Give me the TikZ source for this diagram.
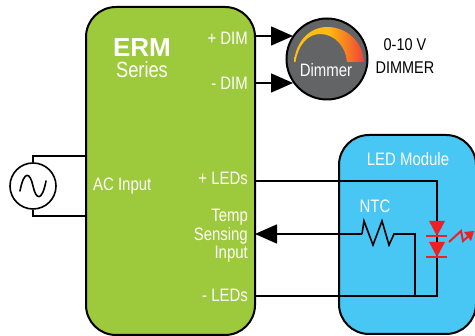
\documentclass[tikz,border=0pt]{standalone}
\usepackage{fontspec}
\setmainfont{Liberation Sans}
\newfontfamily\narrowfont[FakeStretch=0.83]{Liberation Sans}
\newfontfamily\widerfont[FakeStretch=0.85]{Liberation Sans}
\usetikzlibrary{arrows.meta}
\definecolor{ermgreen}{HTML}{9DCA3C}
\definecolor{modblue}{HTML}{48C6F4}
\definecolor{dimgrey}{HTML}{636466}
\definecolor{ledred}{HTML}{ED2024}
\definecolor{arcyellow}{HTML}{FFC20E}
\definecolor{arcorange}{HTML}{F7941E}
\definecolor{arcred}{HTML}{EF4136}
\tikzset{
 wire/.style={black,line width=1.6pt},
 bigtip/.style={-{Triangle[length=22pt,width=19pt]}},
 box/.style={draw=black,line width=2pt,rounded corners=30pt,inner sep=0pt},
 wlabel/.style={text=white,inner sep=0pt,align=right,font=\narrowfont\fontsize{18}{18.5}\selectfont},
 klabel/.style={text=black,inner sep=0pt,align=center,font=\widerfont\fontsize{17}{23}\selectfont},
 tlabel/.style={text=white,inner sep=0pt},
 led/.style={fill=ledred,draw=none},
 ledbar/.style={ledred,line width=1.8pt},
}
\begin{document}
\begin{tikzpicture}[x=1pt,y=-1pt]
 \useasboundingbox (0,0) rectangle (475,336);
 % boxes
 \node [box,fill=ermgreen,minimum width=169pt,minimum height=328pt] (erm) at (170.5,171) {};
 \node [box,fill=modblue,minimum width=137pt,minimum height=199pt] (module) at (407.5,234.5) {};
 \node [circle,draw=black,line width=2pt,fill=dimgrey,minimum size=81pt,inner sep=0pt] (dimmer) at (327,59) {};
 \node [circle,draw=black,line width=1.6pt,fill=white,minimum size=46pt,inner sep=0pt] (source) at (33,186) {};
 % end points
 \coordinate (dimp) at (255,36);
 \coordinate (dimm) at (255,83);
 \coordinate (dimpend) at (293,36);
 \coordinate (dimmend) at (293,83);
 \coordinate (acp) at (86,156);
 \coordinate (acm) at (86,216);
 \coordinate (ledp) at (255,181);
 \coordinate (ledm) at (255,296);
 \coordinate (temp) at (255,234);
 \coordinate (ntca) at (362,234);
 \coordinate (ntcb) at (394,234);
 % dimmer
 \draw [wire,bigtip] (dimp) -- (dimpend);
 \draw [wire,bigtip] (dimm) -- (dimmend);
 \shade [left color=arcyellow,right color=arcred,middle color=arcyellow!80!arcorange]
  (294,62) .. controls (296,40) and (311,27) .. (327,27)
  .. controls (347,27) and (363,42) .. (364,62) -- (347,62)
  .. controls (346,47) and (335,34) .. (320,34)
  .. controls (307,34) and (298,46) .. (295.5,62) -- cycle;
 % source
 \draw [wire] (source.north) |- (acp);
 \draw [wire] (source.south) |- (acm);
 \draw [black,line width=1.6pt,line cap=round] (20,191) .. controls (24,170) and (30,172) .. (33,186)
  .. controls (36,200) and (42,202) .. (46,181);
 % led side
 \draw [wire] (ledp) -| (437,296) -- (ledm);
 \draw [wire,bigtip] (ntca) -- (temp);
 \draw [wire] (ntca) -- (364,221) -- (373,245) -- (382,221) -- (389,245) -- (ntcb) -| (415,296);
 \fill [led] (429,221) -- (445,221) -- (437,236) -- cycle;
 \draw [ledbar] (426,236) -- (447,236);
 \fill [led] (429,242) -- (445,242) -- (437,257) -- cycle;
 \draw [ledbar] (426,257) -- (447,257);
 \draw [ledred,line width=2pt] (449,242) -- (461,231) -- (463,241) -- (470,235);
 \fill [ledred] (474,231) -- (464,232) -- (471,241) -- cycle;
 % labels
 \node [tlabel,font=\bfseries\fontsize{26}{26}\selectfont] (ermname) at (142,47.5) {ERM};
 \node [tlabel,font=\narrowfont\fontsize{22}{22}\selectfont] (ermseries) at (142,69.5) {Series};
 \node [wlabel,anchor=east] (lpdim) at (248,38) {+ DIM};
 \node [wlabel,anchor=east] (lmdim) at (248,83) {- DIM};
 \node [wlabel,anchor=west] (lac) at (93,186) {AC Input};
 \node [wlabel,anchor=east] (lpled) at (248,178) {+ LEDs};
 \node [wlabel,anchor=east] (ltemp) at (248,236) {Temp\\Sensing\\Input};
 \node [wlabel,anchor=east] (lmled) at (248,295) {- LEDs};
 \node [wlabel] (lmodule) at (408,159) {LED Module};
 \node [wlabel] (lntc) at (375,206) {NTC};
 \node [wlabel] (ldimmer) at (326,70) {Dimmer};
 \node [klabel] (lrange) at (405,56) {0-10 V\\DIMMER};
\end{tikzpicture}
\end{document}
